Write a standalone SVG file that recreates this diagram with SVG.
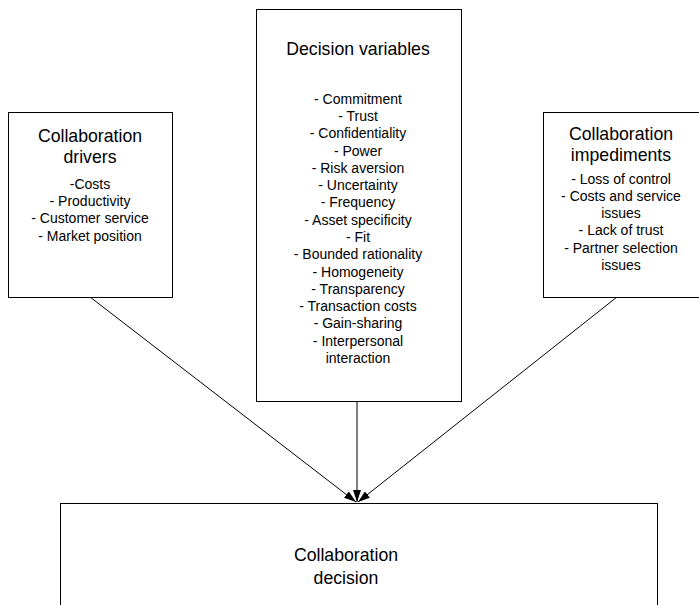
<svg xmlns="http://www.w3.org/2000/svg" width="699" height="605" viewBox="0 0 699 605">
  <style>
    .box { fill: #ffffff; stroke: #000000; stroke-width: 1; }
    .title { font-family: "Liberation Sans", Arial, sans-serif; font-size: 17.7px; text-anchor: middle; fill: #000; }
    .item { font-family: "Liberation Sans", Arial, sans-serif; font-size: 14px; text-anchor: middle; fill: #000; }
    .conn { stroke: #000000; stroke-width: 1; fill: none; marker-end: url(#arrow); }
  </style>
  <defs>
    <marker id="arrow" viewBox="0 0 12 10" refX="12" refY="5" markerWidth="12" markerHeight="10" markerUnits="userSpaceOnUse" orient="auto">
      <path d="M0,1 L12,5 L0,9 Z" fill="#000000"/>
    </marker>
  </defs>
  <rect width="699" height="605" fill="#ffffff"/>

  <g id="connectors">
    <line class="conn" x1="90" y1="297" x2="356" y2="502"/>
    <line class="conn" x1="357" y1="401" x2="357" y2="502"/>
    <line class="conn" x1="617" y1="297" x2="358" y2="502"/>
  </g>

  <g id="drivers">
    <rect class="box" x="8.5" y="112.5" width="164" height="185"/>
    <text class="title" x="90" y="142">Collaboration</text>
    <text class="title" x="90" y="163">drivers</text>
    <text class="item" x="90" y="189">-Costs</text>
    <text class="item" x="90" y="206">- Productivity</text>
    <text class="item" x="90" y="223">- Customer service</text>
    <text class="item" x="90" y="241">- Market position</text>
  </g>

  <g id="variables">
    <rect class="box" x="256.5" y="9.5" width="205" height="392"/>
    <text class="title" x="358" y="55">Decision variables</text>
    <text class="item" x="358" y="104">- Commitment</text>
    <text class="item" x="358" y="121">- Trust</text>
    <text class="item" x="358" y="138">- Confidentiality</text>
    <text class="item" x="358" y="156">- Power</text>
    <text class="item" x="358" y="173">- Risk aversion</text>
    <text class="item" x="358" y="190">- Uncertainty</text>
    <text class="item" x="358" y="207">- Frequency</text>
    <text class="item" x="358" y="225">- Asset specificity</text>
    <text class="item" x="358" y="242">- Fit</text>
    <text class="item" x="358" y="259">- Bounded rationality</text>
    <text class="item" x="358" y="277">- Homogeneity</text>
    <text class="item" x="358" y="294">- Transparency</text>
    <text class="item" x="358" y="311">- Transaction costs</text>
    <text class="item" x="358" y="328">- Gain-sharing</text>
    <text class="item" x="358" y="346">- Interpersonal</text>
    <text class="item" x="358" y="363">interaction</text>
  </g>

  <g id="impediments">
    <rect class="box" x="543.5" y="112.5" width="170" height="185"/>
    <text class="title" x="621" y="140">Collaboration</text>
    <text class="title" x="621" y="161">impediments</text>
    <text class="item" x="621" y="184">- Loss of control</text>
    <text class="item" x="621" y="201">- Costs and service</text>
    <text class="item" x="621" y="218">issues</text>
    <text class="item" x="621" y="235">- Lack of trust</text>
    <text class="item" x="621" y="253">- Partner selection</text>
    <text class="item" x="621" y="270">issues</text>
  </g>

  <g id="decision">
    <rect class="box" x="60.5" y="503.5" width="597" height="120"/>
    <text class="title" x="346" y="561">Collaboration</text>
    <text class="title" x="346" y="584">decision</text>
  </g>
</svg>
